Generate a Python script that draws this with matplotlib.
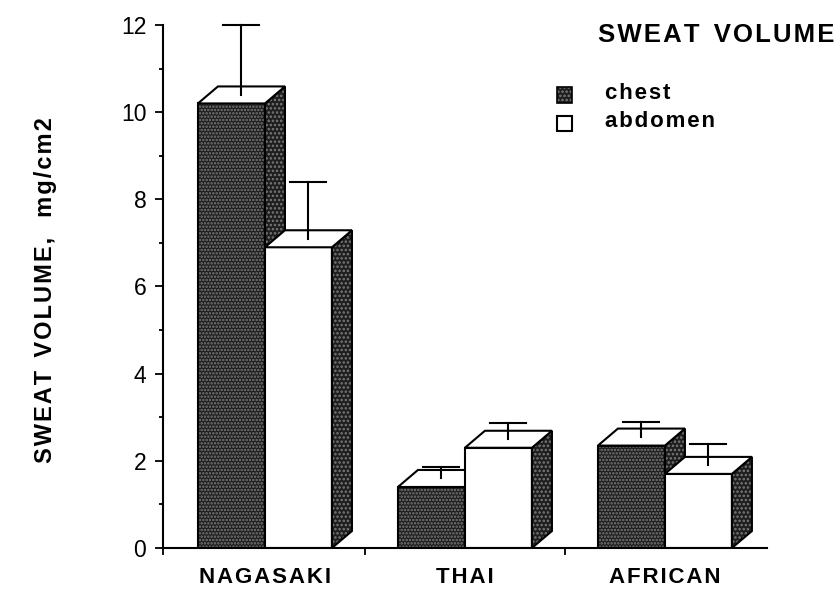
import matplotlib
matplotlib.use("Agg")
import matplotlib.pyplot as plt
import numpy as np
from matplotlib.patches import Polygon, Rectangle

plt.rcParams['font.family'] = ['Liberation Sans', 'DejaVu Sans']
plt.rcParams['hatch.linewidth'] = 1.2

groups = ['NAGASAKI', 'THAI', 'AFRICAN']
chest = [10.2, 1.4, 2.35]
abdomen = [6.9, 2.3, 1.7]
chest_err = [1.6, 0.26, 0.34]
abdomen_err = [1.3, 0.38, 0.5]

W = 0.335      # bar width
DX = 0.1       # depth offsets
DY = 0.39
DARK = '#1e1e1e'
SPECK = '#7a7a7a'


def spaced(s):
    # slightly wider letter spacing like the old typeset figure
    return '\u200a'.join(s)


fig = plt.figure(figsize=(8.4, 5.95), dpi=100)
ax = fig.add_axes([0.194, 0.079, 0.719, 0.879])


def box(x0, h, dark, err):
    x1 = x0 + W
    # front face
    if dark:
        ax.add_patch(Rectangle((x0, 0), W, h, facecolor=DARK, edgecolor=SPECK,
                               hatch='.....', lw=0, zorder=2))
        ax.add_patch(Rectangle((x0, 0), W, h, facecolor='none', edgecolor='black',
                               lw=1.5, zorder=2))
    else:
        ax.add_patch(Rectangle((x0, 0), W, h, facecolor='white', edgecolor='black',
                               lw=1.5, zorder=2))
    # side face
    side = [(x1, 0), (x1 + DX, DY), (x1 + DX, h + DY), (x1, h)]
    ax.add_patch(Polygon(side, closed=True, facecolor=DARK, edgecolor=SPECK,
                         hatch='....', lw=0, zorder=2))
    ax.add_patch(Polygon(side, closed=True, facecolor='none', edgecolor='black',
                         lw=1.5, zorder=2))
    # top face
    top = [(x0, h), (x1, h), (x1 + DX, h + DY), (x0 + DX, h + DY)]
    ax.add_patch(Polygon(top, closed=True, facecolor='white', edgecolor='black',
                         lw=1.5, zorder=2))
    # error bar from middle of top face
    cx = x0 + W / 2 + DX / 2
    cy = h + DY / 2
    ax.plot([cx, cx], [cy, cy + err], color='black', lw=1.5, zorder=3, clip_on=False)
    ax.plot([cx - 0.09, cx + 0.09], [cy + err, cy + err], color='black', lw=1.5,
            zorder=3, clip_on=False)


xpos = np.arange(len(groups))
for i in range(len(groups)):
    box(xpos[i] - W, chest[i], True, chest_err[i])
    box(xpos[i], abdomen[i], False, abdomen_err[i])

ax.set_xlim(-0.51, 2.51)
ax.set_ylim(0, 12)
for s in ['top', 'right']:
    ax.spines[s].set_visible(False)
ax.spines['left'].set_linewidth(1.5)
ax.spines['bottom'].set_linewidth(1.5)

ax.set_yticks(np.arange(0, 13, 2))
ax.set_yticks(np.arange(1, 12, 2), minor=True)
ax.tick_params(axis='y', which='major', length=6, width=1.3, labelsize=16.5, pad=6)
ax.tick_params(axis='y', which='minor', length=3, width=1.3)

ax.set_xticks([-0.51, 0.5, 1.5])
ax.set_xticklabels(['', '', ''])
ax.tick_params(axis='x', which='major', length=5, width=1.3)
ax.set_xticks(xpos, minor=True)
ax.set_xticklabels([spaced(g) for g in groups], minor=True, fontsize=16,
                   fontweight='bold')
ax.tick_params(axis='x', which='minor', length=0, pad=14)

fig.text(0.054, 0.513, spaced('SWEAT') + '  ' + spaced('VOLUME,') + '   ' + spaced('mg/cm2'),
         rotation=90, ha='center', va='center', fontsize=17, fontweight='bold')

fig.text(0.994, 0.942, spaced('SWEAT') + '  ' + spaced('VOLUME'), ha='right',
         va='center', fontsize=18.5, fontweight='bold')

# legend
lx, lw_, lh = 0.663, 0.018, 0.026
fig.patches.append(Rectangle((lx, 0.827), lw_, lh, transform=fig.transFigure,
                             facecolor=DARK, edgecolor=SPECK, hatch='....', lw=0))
fig.patches.append(Rectangle((lx, 0.827), lw_, lh, transform=fig.transFigure,
                             facecolor='none', edgecolor='black', lw=1.2))
fig.patches.append(Rectangle((lx, 0.779), lw_, lh, transform=fig.transFigure,
                             facecolor='white', edgecolor='black', lw=1.5))
fig.text(0.72, 0.843, spaced('chest'), fontsize=16, fontweight='bold', va='center')
fig.text(0.72, 0.795, spaced('abdomen'), fontsize=16, fontweight='bold', va='center')

fig.savefig('out.png', dpi=100)
